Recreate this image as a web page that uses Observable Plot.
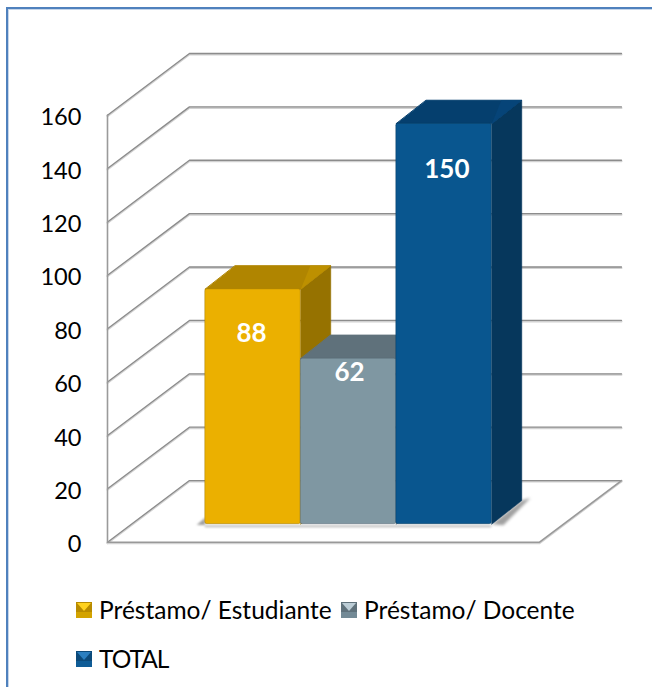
<!DOCTYPE html>
<html>
<head>
<meta charset="utf-8">
<script src="https://cdn.jsdelivr.net/npm/d3@7"></script>
<script src="https://cdn.jsdelivr.net/npm/@observablehq/plot@0.6"></script>
<style>
  html, body { margin: 0; padding: 0; background: #fff; }
  #page { position: relative; width: 652px; height: 687px; overflow: hidden; font-family: Lato, sans-serif; }
  #frame { position: absolute; left: 6px; top: 7px; width: 700px; height: 720px; border-left: 2px solid #4f81bd; border-top: 2px solid #4f81bd; box-shadow: inset 1px 1px 0 #c6d6ea; pointer-events: none; }
  #chart { position: absolute; left: 0; top: 0; }
  #chart svg { display: block; }
  .key { position: absolute; display: flex; align-items: center; font-size: 24.5px; line-height: 24px; color: #000; white-space: nowrap; }
  .sw { width: 16px; height: 16px; margin-right: 7px; flex: none; box-sizing: border-box; position: relative; overflow: hidden; }
  .sw i { position: absolute; left: 1px; top: 1px; width: 14px; height: 8px; clip-path: polygon(0 0, 100% 0, 50% 100%); }
  .key:last-child span:last-child { letter-spacing: -1px; }
</style>
</head>
<body>
<div id="page">
  <div id="frame"></div>
  <div id="chart"></div>
  <div id="legend"></div>
</div>
<script>
// Data
const categories = ["Préstamo/ Estudiante", "Préstamo/ Docente", "TOTAL"];
const values = [88, 62, 150];
const tickValues = [0, 20, 40, 60, 80, 100, 120, 140, 160];
const frontColors = ["#ebb000", "#7f97a2", "#09568f"];
const topColors = ["#b08500", "#5f717b", "#053f6e"];
const sideColors = ["#967200", "#546670", "#06375c"];
const bevelColors = ["#bd9000", "#64767f", "#064478"];
const swatchColors = [
  ["#ffd21f", "#b88b00", "#d3a300"],
  ["#bccdd6", "#5f717b", "#738a96"],
  ["#2b7fc0", "#0c4a7a", "#0f5c96"]
];
const labelLevels = [78.8, 64.1, 140];
const labelNudges = [-0.015, 0.01, 0.03];

// Oblique projection, in scale units (x: one bar width, y: chart value)
const frontSpan = 4.524, wallDx = 0.858, wallDy = 23.1;
const barStart = 1.024, barLift = 6.76, barDx = 0.314, barDy = 8.83;

const gridRows = tickValues.flatMap(t => [
  {t, x: 0, y: t},
  {t, x: wallDx, y: t + wallDy},
  {t, x: frontSpan + wallDx, y: t + wallDy}
]);
const floorEdge = [
  {x: 0, y: 0}, {x: frontSpan, y: 0}, {x: frontSpan + wallDx, y: wallDy}
];
const wallEdge = [{x: 0, y: 0}, {x: 0, y: 160}];

function poly(points, options) {
  return Plot.line(points.map(([x, y]) => ({x, y})), {x: "x", y: "y", curve: "linear-closed", ...options});
}

const barMarks = categories.flatMap((name, i) => {
  const x0 = barStart + i, x1 = x0 + 1, b = barLift, t = barLift + values[i];
  return [
    poly([[x1, b], [x1 + barDx, b + barDy], [x1 + barDx, t + barDy], [x1, t]],
      {fill: sideColors[i], stroke: sideColors[i], strokeWidth: 0.5}),
    poly([[x0, t], [x1, t], [x1 + barDx, t + barDy], [x0 + barDx, t + barDy]],
      {fill: topColors[i], stroke: topColors[i], strokeWidth: 1, strokeLinejoin: "round"}),
    poly([[x1 + 0.1, t + barDy], [x1 + barDx, t + barDy], [x1, t]],
      {fill: bevelColors[i], imageFilter: "blur(0.6px)"}),
    Plot.rect([values[i]], {
      x1: () => x0, x2: () => x1, y1: () => b, y2: () => t,
      fill: frontColors[i], stroke: sideColors[i], strokeOpacity: 0.45, strokeWidth: 1, rx: 2
    })
  ];
});

const x1End = barStart + categories.length;
const shadowMarks = [
  poly([[x1End, barLift], [x1End + barDx, barLift + barDy], [x1End + barDx + 0.09, barLift + barDy + 1], [x1End + 0.12, barLift - 0.4]],
    {fill: "#777", fillOpacity: 0.7, imageFilter: "blur(1.5px)"}),
  poly([[barStart - 0.09, barLift - 0.3], [barStart, barLift - 0.3], [barStart, barLift + 2.5]],
    {fill: "#777", fillOpacity: 0.7, imageFilter: "blur(1px)"}),
  Plot.ruleY([barLift - 0.8], {x1: barStart, x2: x1End, stroke: "#bbb", strokeWidth: 2, imageFilter: "blur(1px)"})
];

const chart = Plot.plot({
  width: 652,
  height: 590,
  marginLeft: 107,
  marginRight: 31,
  marginTop: 53,
  marginBottom: 48.3,
  x: {domain: [0, frontSpan + wallDx], axis: null},
  y: {domain: [0, 160 + wallDy], axis: null},
  style: {background: "transparent", overflow: "visible"},
  marks: [
    Plot.line(gridRows, {x: "x", y: "y", z: "t", stroke: "#d2d2d2", strokeWidth: 2, dy: 1}),
    Plot.line(gridRows, {x: "x", y: "y", z: "t", stroke: "#8c8c8c", strokeWidth: 1.3}),
    Plot.line(floorEdge, {x: "x", y: "y", stroke: "#d2d2d2", strokeWidth: 2, dy: 1}),
    Plot.line(floorEdge, {x: "x", y: "y", stroke: "#999", strokeWidth: 1.6}),
    Plot.line(wallEdge, {x: "x", y: "y", stroke: "#9a9a9a", strokeWidth: 1.6}),
    ...shadowMarks,
    ...barMarks,
    Plot.axisY(tickValues, {
      ticks: tickValues, tickSize: 0, tickPadding: 26, anchor: "left",
      label: null, fontSize: 23.6, fill: "#000", dy: 2.5, fontFamily: "Lato, sans-serif"
    }),
    Plot.text(categories, {
      x: (d, i) => barStart + i + 0.5 + labelNudges[i],
      y: (d, i) => labelLevels[i],
      text: (d, i) => String(values[i]),
      dy: 1.5,
      fill: "#fff",
      fontSize: 26,
      fontWeight: 700,
      fontFamily: "Lato, sans-serif"
    })
  ]
});
document.getElementById("chart").append(chart);

// Legend below the plot area
const legendSpots = [[76, 598], [341, 598], [76, 647]];
const legend = document.getElementById("legend");
categories.forEach((name, i) => {
  const [hi, side, low] = swatchColors[i];
  const key = document.createElement("div");
  key.className = "key";
  key.style.left = legendSpots[i][0] + "px";
  key.style.top = legendSpots[i][1] + "px";
  const sw = document.createElement("span");
  sw.className = "sw";
  sw.style.background = `linear-gradient(0deg, ${low} 0 40%, ${side} 40% 100%)`;
  const tip = document.createElement("i");
  tip.style.background = hi;
  sw.append(tip);
  const label = document.createElement("span");
  label.textContent = name;
  key.append(sw, label);
  legend.append(key);
});
</script>
</body>
</html>
